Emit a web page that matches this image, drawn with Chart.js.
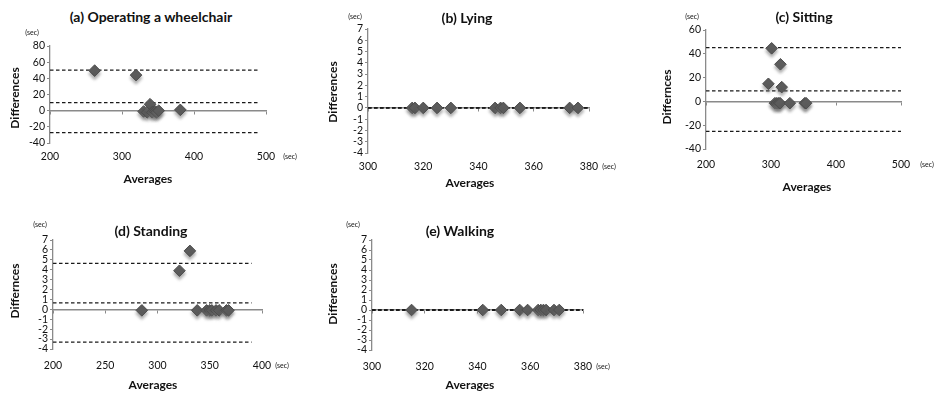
<!DOCTYPE html>
<html>
<head>
<meta charset="utf-8">
<script src="https://cdn.jsdelivr.net/npm/chart.js@4.4.1/dist/chart.umd.min.js"></script>
<style>
  html, body { margin: 0; padding: 0; background: #fff; }
  #wrap { position: relative; width: 937px; height: 396px; overflow: hidden; font-family: Lato, "Noto Sans", sans-serif; color: #111; }
  canvas { position: absolute; }
  .lbl { position: absolute; transform: translate(-50%, -50%); white-space: nowrap; line-height: 1; }
  .ttl { font-weight: bold; font-size: 14px; }
  .ax { font-weight: bold; font-size: 12px; }
  .sec { font-size: 7px; }
  .rot { transform: translate(-50%, -50%) rotate(-90deg); }
</style>
</head>
<body>
<div id="wrap"></div>
<script>
// ---------- data ----------
// (a) Operating a wheelchair
const aAvg   = [262, 319.5, 330, 335, 339, 342, 346, 348, 351, 381];
const aDiff  = [49.5, 44, -1, -2, 8, -2, -1, -2, 0, 1];
const aLimits = [50.2, 9.9, -27.2];      // upper LoA, mean, lower LoA
const aLimitX = [200, 490];
const aXAxis = [200, 500, 100];          // min, max, step
const aYAxis = [-40, 80, 20];

// (b) Lying
const bAvg   = [316, 317, 320, 325, 330, 346, 348, 349, 355, 373, 376];
const bDiff  = [0, 0, 0, 0, 0, 0, 0, 0, 0, 0, 0];
const bLimits = [0, 0, 0];
const bLimitX = [300, 380];
const bXAxis = [300, 380, 20];
const bYAxis = [-4, 7, 1];

// (c) Sitting
const cAvg   = [296, 301, 306, 309, 312, 314, 314.5, 316.5, 329, 352, 354];
const cDiff  = [14.8, 44.6, -1.5, -1.5, -1.5, -1.5, 31.2, 12, -1.5, -1.5, -1.5];
const cLimits = [45.2, 8.8, -25.2];
const cLimitX = [200, 500];
const cXAxis = [200, 500, 100];
const cYAxis = [-40, 60, 20];

// (d) Standing
const dAvg   = [285, 321, 331, 338, 347, 350, 352, 356, 359, 366, 368];
const dDiff  = [-0.1, 3.9, 5.9, -0.1, -0.1, -0.1, -0.1, -0.1, -0.1, -0.1, -0.1];
const dLimits = [4.65, 0.65, -3.3];
const dLimitX = [200, 390];
const dXAxis = [200, 400, 50];
const dYAxis = [-4, 7, 1];

// (e) Walking
const eAvg   = [315, 342, 349, 356, 359, 363, 364, 365, 366, 369, 371];
const eDiff  = [0, 0, 0, 0, 0, 0, 0, 0, 0, 0, 0];
const eLimits = [0, 0, 0];
const eLimitX = [300, 380];
const eXAxis = [300, 380, 20];
const eYAxis = [-4, 7, 1];

// ---------- layout ----------
const panels = [
  { avg: aAvg, diff: aDiff, lim: aLimits, limX: aLimitX, xa: aXAxis, ya: aYAxis,
    area: [50, 266, 46, 143], xLabelY: 156,
    title: '(a) Operating a wheelchair', titlePos: [151, 17],
    yTitle: 'Differences', yTitlePos: [15, 98], secPos: [32, 32],
    xTitlePos: [148, 179], xSecPos: [290, 156] },
  { avg: bAvg, diff: bDiff, lim: bLimits, limX: bLimitX, xa: bXAxis, ya: bYAxis,
    area: [368, 589, 29, 153], xLabelY: 166,
    title: '(b) Lying', titlePos: [467, 18],
    yTitle: 'Differences', yTitlePos: [333, 92], secPos: [355, 16],
    xTitlePos: [470, 183], xSecPos: [609, 166] },
  { avg: cAvg, diff: cDiff, lim: cLimits, limX: cLimitX, xa: cXAxis, ya: cYAxis,
    area: [706, 901, 30, 149], xLabelY: 164,
    title: '(c) Sitting', titlePos: [804, 17],
    yTitle: 'Differnces', yTitlePos: [667, 97], secPos: [692, 16],
    xTitlePos: [807, 187], xSecPos: [927, 164] },
  { avg: dAvg, diff: dDiff, lim: dLimits, limX: dLimitX, xa: dXAxis, ya: dYAxis,
    area: [53, 262, 240, 349], xLabelY: 365,
    title: '(d) Standing', titlePos: [151, 231],
    yTitle: 'Differnces', yTitlePos: [15, 291], secPos: [40, 224],
    xTitlePos: [153, 385], xSecPos: [282, 365] },
  { avg: eAvg, diff: eDiff, lim: eLimits, limX: eLimitX, xa: eXAxis, ya: eYAxis,
    area: [372, 583, 240, 350], xLabelY: 366,
    title: '(e) Walking', titlePos: [460, 231],
    yTitle: 'Differences', yTitlePos: [333, 294], secPos: [353, 224],
    xTitlePos: [470, 385], xSecPos: [603, 366] }
];

const PAD_L = 40, PAD_R = 20, PAD_T = 10, PAD_B = 32;
const AXIS_GREY = '#8a8a8a';
const TICK_FONT = { family: 'Lato, "Noto Sans", sans-serif', size: 10.5 };

const shadowPlugin = {
  id: 'markerShadow',
  beforeDatasetDraw(chart, args) {
    if (chart.data.datasets[args.index].isPoints) {
      const ctx = chart.ctx;
      ctx.save();
      ctx.shadowColor = 'rgba(110,110,110,0.55)';
      ctx.shadowBlur = 3;
      ctx.shadowOffsetX = 0;
      ctx.shadowOffsetY = 3;
    }
  },
  afterDatasetDraw(chart, args) {
    if (chart.data.datasets[args.index].isPoints) chart.ctx.restore();
  }
};

const wrap = document.getElementById('wrap');
function addLabel(text, pos, cls) {
  const d = document.createElement('div');
  d.className = 'lbl ' + cls;
  d.textContent = text;
  d.style.left = pos[0] + 'px';
  d.style.top = pos[1] + 'px';
  wrap.appendChild(d);
}

panels.forEach((p, i) => {
  const [L, R, T, B] = p.area;
  const cv = document.createElement('canvas');
  const w = R - L + PAD_L + PAD_R, h = B - T + PAD_T + PAD_B;
  cv.width = w; cv.height = h;
  cv.style.left = (L - PAD_L) + 'px';
  cv.style.top = (T - PAD_T) + 'px';
  cv.style.width = w + 'px';
  cv.style.height = h + 'px';
  wrap.appendChild(cv);

  const pts = p.avg.map((x, k) => ({ x: x, y: p.diff[k] }));
  const limitSets = p.lim.map((v) => ({
    type: 'line',
    data: [{ x: p.limX[0], y: v }, { x: p.limX[1], y: v }],
    borderColor: '#1a1a1a',
    borderWidth: 1.3,
    borderDash: [3.5, 2.5],
    pointRadius: 0,
    fill: false,
    order: 2
  }));

  new Chart(cv, {
    type: 'scatter',
    data: {
      datasets: [
        {
          isPoints: true,
          data: pts,
          pointStyle: 'rectRot',
          pointRadius: 5.8,
          backgroundColor: '#5a5a5a',
          borderColor: '#4d4d4d',
          borderWidth: 1,
          order: 0
        },
        ...limitSets
      ]
    },
    options: {
      responsive: false,
      animation: false,
      events: [],
      layout: { autoPadding: false, padding: { top: PAD_T, right: PAD_R, left: 0, bottom: 0 } },
      plugins: { legend: { display: false }, tooltip: { enabled: false }, title: { display: false } },
      scales: {
        x: {
          type: 'linear', position: 'bottom',
          min: p.xa[0], max: p.xa[1],
          ticks: { stepSize: p.xa[2], color: '#111', font: TICK_FONT, padding: p.xLabelY - B - 6, maxRotation: 0, autoSkip: false },
          grid: { display: false, drawTicks: false },
          border: { display: false },
          afterFit(s) { s.height = PAD_B; }
        },
        xz: {
          type: 'linear', axis: 'x',
          position: { y: 0 },
          min: p.xa[0], max: p.xa[1],
          ticks: { stepSize: p.xa[2], display: false, autoSkip: false },
          grid: { display: true, drawOnChartArea: false, drawTicks: true, tickLength: 3, color: AXIS_GREY, lineWidth: 1 },
          border: { display: true, color: AXIS_GREY, width: 1.5 },
          afterFit(s) { s.height = 0; }
        },
        y: {
          type: 'linear', position: 'left',
          min: p.ya[0], max: p.ya[1],
          ticks: { stepSize: p.ya[2], color: '#111', font: TICK_FONT, padding: 2, autoSkip: false },
          grid: { display: true, drawOnChartArea: false, drawTicks: true, tickLength: 3, color: AXIS_GREY, lineWidth: 1 },
          border: { display: true, color: AXIS_GREY, width: 1.3 },
          afterFit(s) { s.width = PAD_L; }
        }
      }
    },
    plugins: [shadowPlugin]
  });

  addLabel(p.title, p.titlePos, 'ttl');
  addLabel(p.yTitle, p.yTitlePos, 'ax rot');
  addLabel('(sec)', p.secPos, 'sec');
  addLabel('Averages', p.xTitlePos, 'ax');
  addLabel('(sec)', p.xSecPos, 'sec');
});
</script>
</body>
</html>
